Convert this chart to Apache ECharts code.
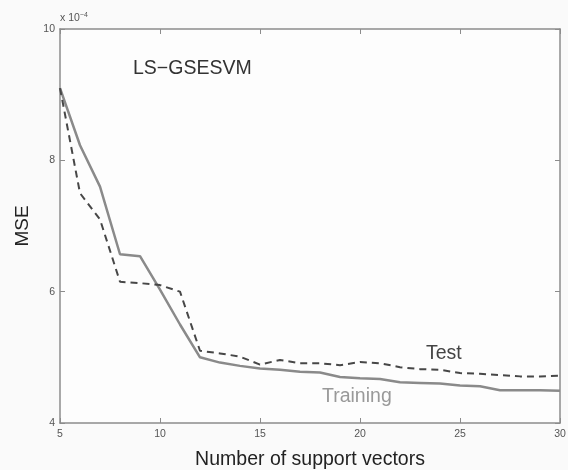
<!DOCTYPE html>
<html lang="en">
    <head>
        <meta charset="UTF-8" />
        <title>LS-GSESVM</title>
        <script src="https://cdn.jsdelivr.net/npm/echarts@6/dist/echarts.min.js"></script>
        <style>
            html, body { margin: 0; padding: 0; background: #fafafa; }
            #chart { width: 568px; height: 470px; }
        </style>
    </head>
    <body>
        <div id="chart"></div>
        <script>
            // number of support vectors
            const svCount = [5, 6, 7, 8, 9, 10, 11, 12, 13, 14, 15, 16, 17, 18, 19, 20, 21, 22, 23, 24, 25, 26, 27, 28, 29, 30];
            // MSE, in units of 1e-4
            const trainingMse = [9.1, 8.23, 7.6, 6.57, 6.54, 6.03, 5.5, 5.0, 4.92, 4.87, 4.83, 4.81, 4.78, 4.77, 4.7, 4.68, 4.67, 4.62, 4.61, 4.6, 4.57, 4.56, 4.5, 4.5, 4.5, 4.49];
            const testMse = [9.1, 7.5, 7.1, 6.15, 6.13, 6.1, 6.0, 5.1, 5.06, 5.01, 4.89, 4.96, 4.91, 4.91, 4.88, 4.93, 4.91, 4.85, 4.82, 4.81, 4.76, 4.75, 4.73, 4.71, 4.71, 4.72];
            const xTicks = { min: 5, max: 30, interval: 5 };
            const yTicks = { min: 4, max: 10, interval: 2 };

            const font = "'Liberation Sans', Arial, Helvetica, sans-serif";
            const axisColor = "#8c8c8c";

            const pair = (xs, ys) => xs.map((x, i) => [x, ys[i]]);

            const baseAxis = {
                type: "value",
                splitLine: { show: false },
                axisLine: { show: true, lineStyle: { color: axisColor, width: 1.5 } },
                axisTick: { show: true, inside: true, length: 5, lineStyle: { color: axisColor } },
                axisLabel: { color: "#555", fontSize: 10.5, fontFamily: font },
            };

            const chart = echarts.init(document.getElementById("chart"));
            chart.setOption({
                animation: false,
                backgroundColor: "#fafafa",
                grid: {
                    left: 60, right: 8, top: 29, bottom: 47,
                    outerBoundsMode: "none",
                    show: true, backgroundColor: "#fdfdfd", borderWidth: 0,
                },
                xAxis: [
                    Object.assign({}, baseAxis, xTicks, {
                        position: "bottom",
                        name: "Number of support vectors",
                        nameLocation: "middle",
                        nameGap: 27,
                        nameTextStyle: { color: "#222", fontSize: 19.5, fontFamily: font },
                        axisLabel: Object.assign({}, baseAxis.axisLabel, { margin: 6 }),
                    }),
                    Object.assign({}, baseAxis, xTicks, {
                        position: "top",
                        axisLabel: { show: false },
                    }),
                ],
                yAxis: [
                    Object.assign({}, baseAxis, yTicks, {
                        position: "left",
                        name: "MSE",
                        nameLocation: "middle",
                        nameGap: 24,
                        nameTextStyle: { color: "#222", fontSize: 19, fontFamily: font },
                        axisLabel: Object.assign({}, baseAxis.axisLabel, { margin: 5 }),
                    }),
                    Object.assign({}, baseAxis, yTicks, {
                        position: "right",
                        axisLabel: { show: false },
                    }),
                ],
                series: [
                    {
                        name: "Training",
                        type: "line",
                        data: pair(svCount, trainingMse),
                        showSymbol: false,
                        lineStyle: { color: "#8a8a8a", width: 2.5 },
                        z: 3,
                    },
                    {
                        name: "Test",
                        type: "line",
                        data: pair(svCount, testMse),
                        showSymbol: false,
                        lineStyle: { color: "#474747", width: 2, type: [7, 5] },
                        z: 4,
                    },
                ],
                graphic: [
                    {
                        type: "text",
                        left: 60,
                        top: 12,
                        style: {
                            text: "x 10{sup|−4}",
                            fill: "#555",
                            font: "10.5px " + font,
                            rich: { sup: { fontSize: 7, verticalAlign: "top", padding: [0, 0, 6, 0], fill: "#555" } },
                        },
                    },
                    {
                        type: "text",
                        left: 133,
                        top: 59,
                        style: { text: "LS−GSESVM", fill: "#333", font: "19.5px " + font },
                    },
                    {
                        type: "text",
                        left: 426,
                        top: 344,
                        style: { text: "Test", fill: "#444", font: "19.5px " + font },
                    },
                    {
                        type: "text",
                        left: 322,
                        top: 387,
                        style: { text: "Training", fill: "#999", font: "19.5px " + font },
                    },
                ],
            });
        </script>
    </body>
</html>
